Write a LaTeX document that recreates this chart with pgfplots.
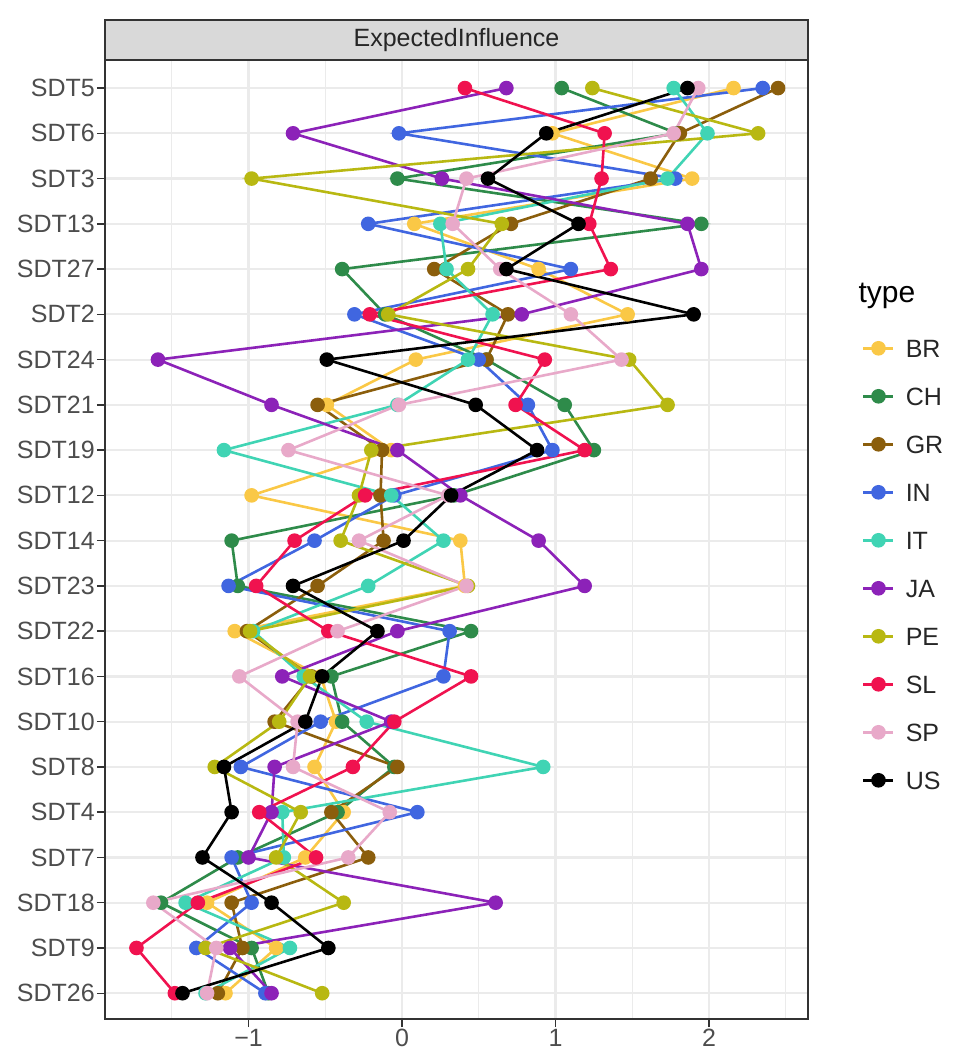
\documentclass[border=0pt]{standalone}
\usepackage{fontspec}
\setmainfont{Liberation Sans}
\usepackage{pgfplots}
\pgfplotsset{compat=1.18}
\usepackage{pgfplotstable}
\definecolor{cBR}{HTML}{FAC846}
\definecolor{cCH}{HTML}{2E8B4A}
\definecolor{cGR}{HTML}{8B5E0C}
\definecolor{cIN}{HTML}{4066E0}
\definecolor{cIT}{HTML}{40D4B4}
\definecolor{cJA}{HTML}{8C22B8}
\definecolor{cPE}{HTML}{B8B812}
\definecolor{cSL}{HTML}{F0124F}
\definecolor{cSP}{HTML}{E8A9C9}
\definecolor{cUS}{HTML}{000000}
\definecolor{gridc}{HTML}{EBEBEB}
\definecolor{stripc}{HTML}{D9D9D9}
\definecolor{axc}{HTML}{333333}
\definecolor{labc}{HTML}{4D4D4D}
\pgfplotstableread{
idx BR CH GR IN IT JA PE SL SP US
0 2.16 1.04 2.45 2.35 1.77 0.68 1.24 0.41 1.93 1.86
1 0.98 1.79 1.81 -0.02 1.99 -0.71 2.32 1.32 1.77 0.94
2 1.89 -0.03 1.62 1.78 1.73 0.26 -0.98 1.30 0.42 0.56
3 0.08 1.95 0.71 -0.22 0.25 1.86 0.65 1.22 0.33 1.15
4 0.89 -0.39 0.21 1.10 0.29 1.95 0.43 1.36 0.64 0.68
5 1.47 -0.11 0.69 -0.31 0.59 0.78 -0.09 -0.21 1.10 1.90
6 0.09 0.55 0.55 0.50 0.43 -1.59 1.48 0.93 1.43 -0.49
7 -0.49 1.06 -0.55 0.82 -0.03 -0.85 1.73 0.74 -0.02 0.48
8 -0.07 1.25 -0.13 0.98 -1.16 -0.03 -0.20 1.19 -0.74 0.88
9 -0.98 0.34 -0.14 -0.05 -0.07 0.38 -0.28 -0.24 0.30 0.32
10 0.38 -1.11 -0.12 -0.57 0.27 0.89 -0.40 -0.70 -0.28 0.01
11 0.41 -1.07 -0.55 -1.13 -0.22 1.19 0.43 -0.95 0.42 -0.71
12 -1.09 0.45 -1.01 0.31 -0.97 -0.03 -0.99 -0.48 -0.42 -0.16
13 -0.53 -0.46 -0.59 0.27 -0.64 -0.78 -0.60 0.45 -1.06 -0.52
14 -0.43 -0.39 -0.83 -0.53 -0.23 -0.07 -0.80 -0.05 -0.68 -0.63
15 -0.57 -0.05 -0.03 -1.05 0.92 -0.83 -1.22 -0.32 -0.71 -1.16
16 -0.38 -0.42 -0.46 0.10 -0.78 -0.85 -0.66 -0.93 -0.08 -1.11
17 -0.63 -1.07 -0.22 -1.11 -0.77 -1.00 -0.82 -0.56 -0.35 -1.30
18 -1.27 -1.57 -1.11 -0.98 -1.41 0.61 -0.38 -1.33 -1.62 -0.85
19 -0.82 -0.98 -1.04 -1.34 -0.73 -1.12 -1.28 -1.73 -1.21 -0.48
20 -1.15 -0.87 -1.20 -0.89 -1.28 -0.85 -0.52 -1.48 -1.27 -1.43
}\datatab
\begin{document}
\begin{tikzpicture}[x=1pt,y=1pt]
\useasboundingbox (0,0) rectangle (957,1053);
\begin{axis}[name=ax, at={(105pt,34pt)}, anchor=south west, scale only axis,
  width=703pt, height=959pt,
  xmin=-1.935, xmax=2.645, ymin=-0.62, ymax=20.57, y dir=reverse,
  xtick={-1,0,1,2}, xticklabels={−1,0,1,2},
  minor xtick={-1.5,-0.5,0.5,1.5,2.5},
  ytick={0,...,20},
  yticklabels={SDT5,SDT6,SDT3,SDT13,SDT27,SDT2,SDT24,SDT21,SDT19,SDT12,SDT14,SDT23,SDT22,SDT16,SDT10,SDT8,SDT4,SDT7,SDT18,SDT9,SDT26},
  grid=both,
  major grid style={color=gridc, line width=2.2pt},
  minor grid style={color=gridc, line width=1.3pt},
  axis line style={color=axc, line width=1.4pt},
  tick style={color=axc, line width=1.4pt},
  tick align=outside, major tick length=8pt, minor tick length=0pt,
  xtick pos=lower, ytick pos=left,
  ticklabel style={font=\fontsize{25}{30}\selectfont, text=labc},
  yticklabel style={inner sep=2pt},
  xticklabel style={inner sep=2pt},
  clip=false,
  every axis plot/.append style={line width=2.6pt, mark=*, mark size=6pt},
  legend style={at={(1.0768,0.709)}, anchor=north west, draw=none, fill=none,
    font=\fontsize{25}{30}\selectfont, text=black!85, inner sep=0pt, row sep=30pt,
    nodes={inner sep=0pt, text height=18pt, text depth=0pt}, cells={anchor=west}},
  legend image code/.code={\draw[#1, mark repeat=2, mark phase=2] plot coordinates {(0pt,0pt) (15pt,0pt) (30pt,0pt)}; \path (41pt,0pt);},
]
\addplot[color=cBR, mark options={fill=cBR}] table[x=BR, y=idx] {\datatab};
\addlegendentry{BR}
\addplot[color=cCH, mark options={fill=cCH}] table[x=CH, y=idx] {\datatab};
\addlegendentry{CH}
\addplot[color=cGR, mark options={fill=cGR}] table[x=GR, y=idx] {\datatab};
\addlegendentry{GR}
\addplot[color=cIN, mark options={fill=cIN}] table[x=IN, y=idx] {\datatab};
\addlegendentry{IN}
\addplot[color=cIT, mark options={fill=cIT}] table[x=IT, y=idx] {\datatab};
\addlegendentry{IT}
\addplot[color=cJA, mark options={fill=cJA}] table[x=JA, y=idx] {\datatab};
\addlegendentry{JA}
\addplot[color=cPE, mark options={fill=cPE}] table[x=PE, y=idx] {\datatab};
\addlegendentry{PE}
\addplot[color=cSL, mark options={fill=cSL}] table[x=SL, y=idx] {\datatab};
\addlegendentry{SL}
\addplot[color=cSP, mark options={fill=cSP}] table[x=SP, y=idx] {\datatab};
\addlegendentry{SP}
\addplot[color=cUS, mark options={fill=cUS}] table[x=US, y=idx] {\datatab};
\addlegendentry{US}
\end{axis}
\draw[fill=stripc, draw=axc, line width=1.4pt] (105,993) rectangle (808,1033);
\node[font=\fontsize{25}{30}\selectfont, text=black!85] at (456.5,1013) {ExpectedInfluence};
\node[anchor=base west, font=\fontsize{30}{36}\selectfont, text=black] at (855,750) {type};
\end{tikzpicture}
\end{document}
